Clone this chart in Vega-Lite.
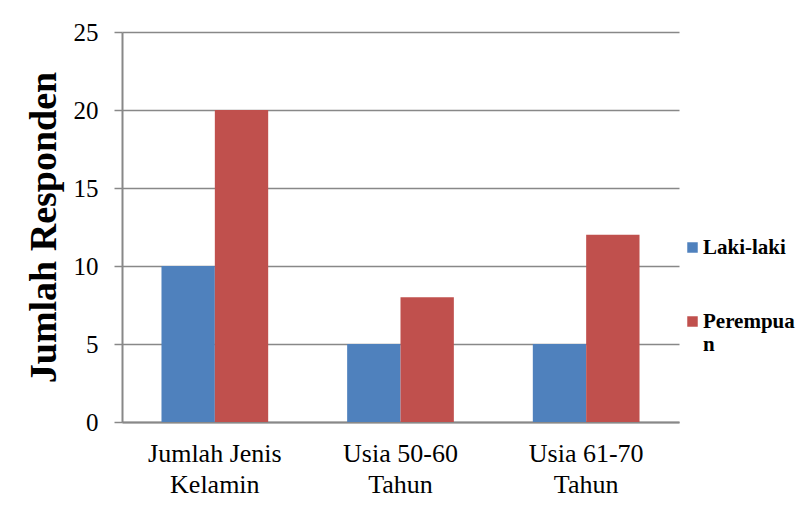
{
  "$schema": "https://vega.github.io/schema/vega-lite/v6.json",
  "width": 557,
  "height": 390,
  "autosize": {"type": "none"},
  "padding": {"left": 122, "top": 32, "right": 123, "bottom": 84},
  "background": "white",
  "data": {
    "values": [
      {"kategori": "Jumlah Jenis Kelamin", "jenis": "Laki-laki", "jumlah": 10},
      {"kategori": "Jumlah Jenis Kelamin", "jenis": "Perempuan", "jumlah": 20},
      {"kategori": "Usia 50-60 Tahun", "jenis": "Laki-laki", "jumlah": 5},
      {"kategori": "Usia 50-60 Tahun", "jenis": "Perempuan", "jumlah": 8},
      {"kategori": "Usia 61-70 Tahun", "jenis": "Laki-laki", "jumlah": 5},
      {"kategori": "Usia 61-70 Tahun", "jenis": "Perempuan", "jumlah": 12}
    ]
  },
  "mark": {"type": "bar"},
  "encoding": {
    "x": {
      "field": "kategori",
      "type": "nominal",
      "sort": null,
      "scale": {"paddingInner": 0.4253, "paddingOuter": 0.21265},
      "axis": {
        "title": null,
        "labelAngle": 0,
        "labelFontSize": 26,
        "labelColor": "black",
        "labelLineHeight": 31,
        "labelPadding": 18,
        "labelBaseline": "top",
        "labelExpr": "datum.label == 'Jumlah Jenis Kelamin' ? ['Jumlah Jenis', 'Kelamin'] : datum.label == 'Usia 50-60 Tahun' ? ['Usia 50-60', 'Tahun'] : ['Usia 61-70', 'Tahun']",
        "ticks": false,
        "grid": false,
        "domainColor": "#888888",
        "domainWidth": 2
      }
    },
    "xOffset": {"field": "jenis", "type": "nominal", "scale": {"paddingInner": 0, "paddingOuter": 0}},
    "y": {
      "field": "jumlah",
      "type": "quantitative",
      "scale": {"domain": [0, 25], "nice": false},
      "axis": {
        "title": "Jumlah Responden",
        "titleFontSize": 38,
        "titleFontWeight": "bold",
        "titleColor": "black",
        "titlePadding": 10,
        "values": [0, 5, 10, 15, 20, 25],
        "labelFontSize": 25,
        "labelColor": "black",
        "labelPadding": 16,
        "tickSize": 8,
        "tickColor": "#888888",
        "tickWidth": 1.5,
        "gridColor": "#888888",
        "gridWidth": 1.5,
        "domainColor": "#888888",
        "domainWidth": 2
      }
    },
    "color": {
      "field": "jenis",
      "type": "nominal",
      "scale": {"domain": ["Laki-laki", "Perempuan"], "range": ["#4F81BD", "#C0504D"]},
      "legend": {
        "title": null,
        "orient": "none",
        "legendX": 560,
        "legendY": 205,
        "symbolType": "square",
        "symbolSize": 110,
        "symbolStrokeWidth": 0,
        "labelFontSize": 21,
        "labelFontWeight": "bold",
        "labelColor": "black",
        "labelOffset": 0,
        "labelLineHeight": 27,
        "labelLimit": 200,
        "labelExpr": "datum.label == 'Perempuan' ? ['Perempua', 'n'] : datum.label",
        "rowPadding": 52
      }
    }
  },
  "config": {
    "font": "Liberation Serif",
    "axis": {"labelFont": "Liberation Serif", "titleFont": "Liberation Serif"},
    "legend": {"labelFont": "Liberation Serif"},
    "view": {"stroke": null}
  }
}
